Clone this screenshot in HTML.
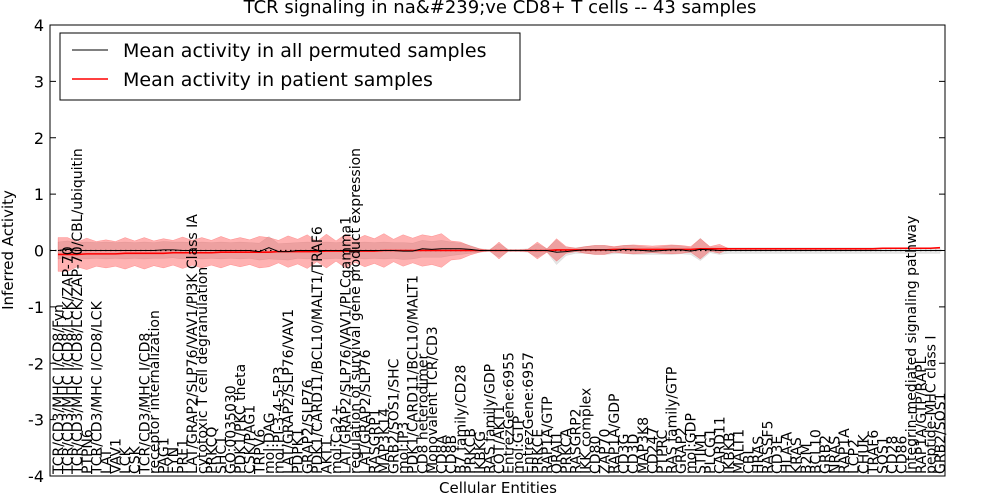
<!DOCTYPE html>
<html><head><meta charset="utf-8"><style>
html,body{margin:0;padding:0;background:#fff;}
svg{display:block;font-family:"DejaVu Sans","Liberation Sans",sans-serif;}
</style></head><body>
<svg id="chart" width="1000" height="500" xmlns="http://www.w3.org/2000/svg"></svg>
<script>
const entities=["TCR/CD3/MHC I/CD8/Fyn","TCR/CD3/MHC I/CD8/LCK/ZAP-70","TCR/CD3/MHC I/CD8/LCK/ZAP-70/CBL/ubiquitin","PTPN6","TCR/CD3/MHC I/CD8/LCK","LAT","VAV1","LCK","CSK","TCR/CD3/MHC I/CD8","receptor internalization","PAG1","FYN","PRF1","LAT/GRAP2/SLP76/VAV1/PI3K Class IA","cytotoxic T cell degranulation","PRKCQ","SHC1","GO:0035030","PDK1/PKC theta","CSK/PAG1","TRPV6","mol:DAG","mol:PI-3-4-5-P3","LAT/GRAP2/SLP76/VAV1","PDPK1","GRAP2/SLP76","PDK1/CARD11/BCL10/MALT1/TRAF6","AKT1","mol:Ca2+","LAT/GRAP2/SLP76/VAV1/PLCgamma1","regulation of survival gene product expression","LAT/GRAP2/SLP76","RASGRP1","MAP3K14","GRB2/SOS1/SHC","mol:IP3","PDK1/CARD11/BCL10/MALT1","CD8 heterodimer","Monovalent TCR/CD3","CD8A","CD8B","B7 family/CD28","PRKCB","IKBKG","RAS family/GDP","COT/AKT1","EntrezGene:6955","mol:GTP","EntrezGene:6957","PRKCE","RAP1A/GTP","ORAI1","PRKCA","RASGRP2","IKK complex","CD80","ZAP70","RAP1A/GDP","CD3G","CD3D","MAP3K8","CD247","PTPRC","RAS family/GTP","GRAP2","mol:GDP","STIM1","PLCG1","CARD11","IKBKB","MALT1","CBL","HRAS","RASSF5","CD3E","HLA-A","KRAS","B2M","BCL10","GRB2","NRAS","RAP1A","LCP2","CHUK","TRAF6","SOS1","CD28","CD86","Integrin-mediated signaling pathway","RAP1A/GTP/RAPL","peptide-MHC class I","GRB2/SOS1"];
const patientMean=[-0.07,-0.07,-0.07,-0.06,-0.06,-0.06,-0.06,-0.05,-0.05,-0.05,-0.05,-0.05,-0.04,-0.04,-0.04,-0.04,-0.04,-0.03,-0.03,-0.03,-0.03,-0.03,-0.03,-0.02,-0.02,-0.02,-0.02,-0.02,-0.01,-0.01,-0.01,-0.01,-0.01,-0.01,0,0,0,0,0,0,0,0,0,0,0,0,0,0,0,0,0,0,0.01,0.01,0.01,0.01,0.01,0.01,0.02,0.02,0.02,0.02,0.02,0.02,0.02,0.02,0.02,0.03,0.03,0.03,0.03,0.03,0.03,0.03,0.03,0.03,0.03,0.03,0.03,0.03,0.03,0.03,0.03,0.03,0.03,0.03,0.04,0.04,0.04,0.04,0.04,0.04,0.05];
const patientBand=[0.3,0.3,0.22,0.28,0.22,0.25,0.22,0.28,0.22,0.28,0.22,0.26,0.22,0.28,0.22,0.27,0.22,0.28,0.22,0.26,0.22,0.28,0.26,0.2,0.28,0.22,0.3,0.18,0.3,0.18,0.3,0.2,0.28,0.22,0.3,0.2,0.28,0.22,0.28,0.25,0.3,0.17,0.15,0.08,0.03,0.0,0.15,0.0,0.0,0.02,0.15,0.03,0.2,0.06,0.03,0.06,0.08,0.08,0.05,0.07,0.08,0.07,0.06,0.07,0.08,0.07,0.05,0.18,0.04,0.08,0,0,0,0,0,0,0,0,0,0,0,0,0,0,0,0,0,0,0,0,0,0,0];
const permMean=[0,0.02,0,0,0,0,0,0,0,0,0,0.01,0.01,0,0,0,0,0,0,0,0,-0.02,0.05,-0.02,-0.02,0,0,0,0,0,0,0,0,0,0,0,-0.01,-0.01,0.03,0.02,0.03,0.03,0.03,0.02,0,0,0,0,0,0,0,0,-0.03,-0.02,0,0.01,0.01,0.01,0,0.02,0.01,0,-0.01,0,0.01,0.01,-0.01,0.02,0.01,0,0,0,0,0,0,0,0,0,0,0,0,0,0,0,0,0,0,0,0,0,0,0,0];
const permBand=[0.15,0.15,0.14,0.15,0.14,0.15,0.14,0.15,0.14,0.15,0.14,0.15,0.14,0.15,0.14,0.15,0.14,0.15,0.14,0.15,0.14,0.15,0.2,0.14,0.15,0.14,0.15,0.14,0.15,0.14,0.15,0.14,0.15,0.14,0.15,0.14,0.15,0.14,0.15,0.14,0.15,0.12,0.1,0.07,0.03,0.02,0.12,0.02,0.02,0.03,0.12,0.03,0.22,0.07,0.05,0.06,0.08,0.08,0.06,0.07,0.08,0.07,0.06,0.07,0.08,0.07,0.06,0.2,0.05,0.07,0.05,0.05,0.05,0.05,0.05,0.05,0.05,0.05,0.05,0.05,0.05,0.05,0.05,0.05,0.05,0.05,0.05,0.05,0.05,0.05,0.05,0.05,0.05];
const yTicks=[4,3,2,1,0,-1,-2,-3,-4];

const NS="http://www.w3.org/2000/svg";
const svg=document.getElementById('chart');
const L=50,R=945,T=25,B=476;
const x0=58,dx=(940-58)/(entities.length-1);
const xs=i=>x0+i*dx;
const ys=v=>T+(4-v)*(B-T)/8;
function mk(tag,attrs,parent){const e=document.createElementNS(NS,tag);for(const k in attrs)e.setAttribute(k,attrs[k]);(parent||svg).appendChild(e);return e;}

const title=mk('text',{x:500,y:13,'text-anchor':'middle','font-size':18});
title.textContent='TCR signaling in na&#239;ve CD8+ T cells -- 43 samples';



function band(mean,w,fill,op,name){
  let pts=[];
  for(let i=0;i<mean.length;i++)pts.push(xs(i)+','+ys(mean[i]+w[i]));
  for(let i=mean.length-1;i>=0;i--)pts.push(xs(i)+','+ys(mean[i]-w[i]));
  const p=mk('polygon',{points:pts.join(' '),fill:fill,'fill-opacity':op,stroke:fill,'stroke-opacity':op,'stroke-width':0.5});
  
  
}
function line(mean,color,wd,name){
  const p=mk('polyline',{points:mean.map((v,i)=>xs(i)+','+ys(v)).join(' '),fill:'none',stroke:color,'stroke-width':wd});
  
  
}
band(permMean,permBand,'#aaaaaa',0.3,'permuted-band');
band(patientMean,patientBand,'#ff0000',0.3,'patient-band');
const zl=mk('line',{x1:L,x2:R,y1:ys(0),y2:ys(0),stroke:'#000','stroke-dasharray':'1.5,3.5','stroke-width':1.2});


line(patientMean,'#ff0000',1.6,'patient-mean-line');
line(permMean,'#000000',1,'permuted-mean-line');

entities.forEach((t,i)=>{
  const e=mk('text',{transform:`translate(${xs(i)+5},474) rotate(-90)`,'font-size':14});
  e.textContent=t;
  
  
});

const fr=mk('rect',{x:L,y:T,width:R-L,height:B-T,fill:'none',stroke:'#000','stroke-width':1});


yTicks.forEach(v=>{
  const y=ys(v);
  mk('line',{x1:L,x2:L+6,y1:y,y2:y,stroke:'#000'});
  mk('line',{x1:R-6,x2:R,y1:y,y2:y,stroke:'#000'});
  const t=mk('text',{x:L-6,y:y+6,'text-anchor':'end','font-size':16});
  t.textContent=v;
  
  
});

const xl=mk('text',{x:498,y:493,'text-anchor':'middle','font-size':15});
xl.textContent='Cellular Entities';


const yl=mk('text',{transform:'translate(13,250) rotate(-90)','text-anchor':'middle','font-size':15});
yl.textContent='Inferred Activity';



const lg=mk('g',{});


mk('rect',{x:60,y:33,width:460,height:67,fill:'#fff',stroke:'#000'},lg);
mk('line',{x1:72,x2:108,y1:50,y2:50,stroke:'#000','stroke-width':1},lg);
mk('line',{x1:72,x2:108,y1:79,y2:79,stroke:'#f00','stroke-width':1.5},lg);
const l1=mk('text',{x:123,y:57,'font-size':19},lg);l1.textContent='Mean activity in all permuted samples';


const l2=mk('text',{x:123,y:86,'font-size':19},lg);l2.textContent='Mean activity in patient samples';


</script>
</body></html>
